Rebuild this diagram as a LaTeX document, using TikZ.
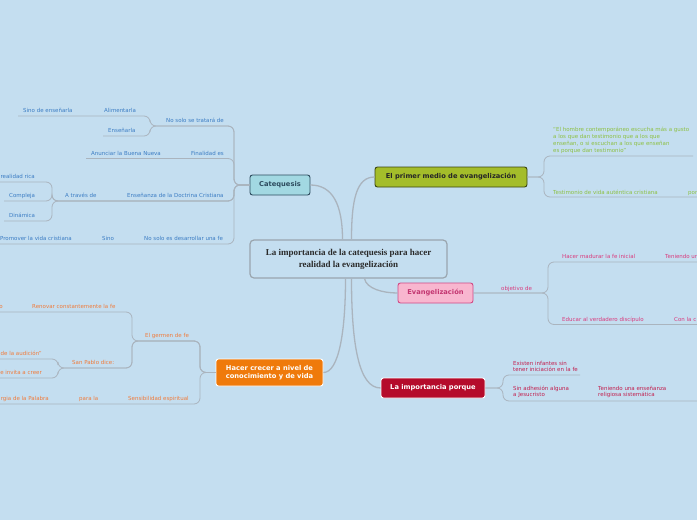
\documentclass[tikz,border=0pt]{standalone}
\usepackage{fontspec}
\setmainfont{DejaVu Sans}
\newfontfamily\titlefont{Liberation Serif}
\usetikzlibrary{positioning}
\definecolor{paper}{HTML}{C4DEF0}
\definecolor{wire}{HTML}{AAB4BE}
\definecolor{rootedge}{HTML}{9AA5AE}
\definecolor{ink}{HTML}{2A2A2A}
\definecolor{catblue}{HTML}{3C7DC4}
\definecolor{catfill}{HTML}{A2D8E2}
\definecolor{catedge}{HTML}{2D4B5E}
\definecolor{medgreen}{HTML}{8DC043}
\definecolor{medfill}{HTML}{A4BD2A}
\definecolor{mededge}{HTML}{3A4410}
\definecolor{evpink}{HTML}{D93C7E}
\definecolor{evfill}{HTML}{F8B6CF}
\definecolor{evedge}{HTML}{D04A86}
\definecolor{grorange}{HTML}{F07C3C}
\definecolor{grfill}{HTML}{EF7A0B}
\definecolor{whyred}{HTML}{C21F4E}
\definecolor{whyfill}{HTML}{B50B2B}

\begin{document}
\begin{tikzpicture}[x=1pt, y=-1pt,
  topic/.style={draw, rounded corners=2.5pt, line width=0.9pt, inner sep=0pt, align=center, font=\fontsize{6.7}{8.2}\selectfont\bfseries},
  leaf/.style={inner sep=0pt, anchor=base west, align=left, font=\fontsize{5.5}{6.7}\selectfont},
  leafr/.style={leaf, anchor=base east, align=right},
  branch/.style={draw=wire, line width=0.8pt, rounded corners=6pt},
  trunk/.style={draw=wire, line width=1.3pt}]
  \useasboundingbox (0,0) rectangle (697,520);
  \clip (0,0) rectangle (697,520);
  \fill[paper] (0,0) rectangle (697,520);

  % centre and main topics
  \node[draw=rootedge, fill=paper, rounded corners=4pt, line width=1.2pt, minimum width=197pt, minimum height=38pt, align=center, text=ink, font=\titlefont\fontsize{9}{12}\selectfont\bfseries] (root) at (348.5,259) {La importancia de la catequesis para hacer\\realidad la evangelización};
  \node[topic, draw=catedge, fill=catfill, text=catedge, minimum width=60pt, minimum height=20pt] (cat) at (280,185) {Catequesis};
  \node[topic, draw=mededge, fill=medfill, text=black!85, minimum width=152pt, minimum height=20pt] (med) at (451,177) {El primer medio de evangelización};
  \node[topic, draw=evedge, fill=evfill, text=evpink!90!black, minimum width=75pt, minimum height=20pt] (ev) at (435.5,293) {Evangelización};
  \node[topic, draw=white, fill=grfill, text=white, minimum width=107pt, minimum height=27pt] (grow) at (269.5,372.5) {Hacer crecer a nivel de\\conocimiento y de vida};
  \node[topic, draw=white, fill=whyfill, text=white, minimum width=104pt, minimum height=20pt] (why) at (433,388) {La importancia porque};

  \draw[trunk] ([xshift=-6pt]root.north) .. controls +(0,-35) and +(22,0) .. (cat.east);
  \draw[trunk] ([xshift=3pt]root.north) .. controls +(0,-40) and +(-18,0) .. (med.west);
  \draw[trunk] ([xshift=16pt]root.south) .. controls +(2,10) and +(-15,0) .. (ev.west);
  \draw[trunk] ([xshift=-3pt]root.south) .. controls +(0,55) and +(15,0) .. (grow.east);
  \draw[trunk] ([xshift=3pt]root.south) .. controls +(0,65) and +(-22,0) .. (why.west);

  % Catequesis
  \coordinate (catj) at (234,185);
  \coordinate (c1j) at (150,126);
  \coordinate (c3j) at (52,201);
  \coordinate (u_sino) at (18,116);
  \coordinate (u_ens) at (103,136);
  \coordinate (u_anun) at (86,158.5);
  \coordinate (u_rica) at (-2,182);
  \coordinate (u_comp) at (4,201);
  \coordinate (u_din) at (4,221);
  \coordinate (u_prom) at (-2,244);
  \draw[branch] (cat.west) -- (catj) |- (c1j) |- (u_sino);
  \draw[branch] (cat.west) -- (catj) |- (c1j) |- (u_ens);
  \draw[branch] (cat.west) -- (catj) |- (u_anun);
  \draw[branch] (cat.west) -- (catj) |- (c3j) |- (u_rica);
  \draw[branch] (cat.west) -- (catj) |- (c3j) |- (u_comp);
  \draw[branch] (cat.west) -- (catj) |- (c3j) |- (u_din);
  \draw[branch] (cat.west) -- (catj) |- (u_prom);
  \begin{scope}[every node/.append style={text=catblue}]
    \node[leaf] (tratar) at (166,122.5) {No solo se tratará de};
    \node[leaf] (alim) at (104,112.5) {Alimentarla};
    \node[leaf] (sinoens) at (23,112.5) {Sino de enseñarla};
    \node[leaf] (ensen) at (108,132.5) {Enseñarla};
    \node[leaf] (fin) at (191,155) {Finalidad es};
    \node[leaf] (anun) at (91,155) {Anunciar la Buena Nueva};
    \node[leaf] (doct) at (127,197.5) {Enseñanza de la Doctrina Cristiana};
    \node[leaf] (atrav) at (65,197.5) {A través de};
    \node[leafr] (rica) at (35,178.5) {realidad rica};
    \node[leaf] (comp) at (9,197.5) {Compleja};
    \node[leaf] (din) at (9,217.5) {Dinámica};
    \node[leaf] (desa) at (144,240.5) {No solo es desarrollar una fe};
    \node[leaf] (sino) at (102,240.5) {Sino};
    \node[leafr] (prom) at (72,240.5) {Promover la vida cristiana};
  \end{scope}

  % El primer medio de evangelizacion
  \coordinate (medj) at (544,177);
  \coordinate (u_quote) at (693,156);
  \coordinate (u_test) at (700,197);
  \draw[branch] (med.east) -- (medj) |- (u_quote);
  \draw[branch] (med.east) -- (medj) |- (u_test);
  \begin{scope}[every node/.append style={text=medgreen}]
    \node[leaf] (quote) at (553,152) {“El hombre contemporáneo escucha más a gusto\\a los que dan testimonio que a los que\\enseñan, o si escuchan a los que enseñan\\es porque dan testimonio”};
    \node[leaf] (test) at (553,194) {Testimonio de vida auténtica cristiana};
    \node[leaf] (por) at (688,194) {por};
  \end{scope}

  % Evangelizacion
  \coordinate (evj) at (548,293);
  \coordinate (u_mad) at (700,262);
  \coordinate (u_edu) at (700,324.5);
  \draw[branch] (ev.east) -- (evj) |- (u_mad);
  \draw[branch] (ev.east) -- (evj) |- (u_edu);
  \begin{scope}[every node/.append style={text=evpink}]
    \node[leaf] (objetivo) at (501,290) {objetivo de};
    \node[leaf] (madurar) at (562,258.5) {Hacer madurar la fe inicial};
    \node[leaf] (tenu) at (665,258.5) {Teniendo un};
    \node[leaf] (educar) at (562,321) {Educar al verdadero discípulo};
    \node[leaf] (conla) at (674,321) {Con la c};
  \end{scope}

  % Hacer crecer
  \coordinate (grj) at (200,372.5);
  \coordinate (germj) at (132,341);
  \coordinate (pabj) at (58,368);
  \coordinate (u_ren) at (-2,312);
  \coordinate (u_aud) at (-2,359);
  \coordinate (u_inv) at (-2,378);
  \coordinate (u_sens) at (-2,404);
  \draw[branch] (grow.west) -- (grj) |- (germj) |- (u_ren);
  \draw[branch] (grow.west) -- (grj) |- (germj) |- (pabj) |- (u_aud);
  \draw[branch] (grow.west) -- (grj) |- (germj) |- (pabj) |- (u_inv);
  \draw[branch] (grow.west) -- (grj) |- (u_sens);
  \begin{scope}[every node/.append style={text=grorange}]
    \node[leaf] (germen) at (145,337.5) {El germen de fe};
    \node[leaf] (renovar) at (32,308.5) {Renovar constantemente la fe};
    \node[leafr] (oend) at (3,308.5) {o};
    \node[leaf] (pablo) at (72,364.5) {San Pablo dice:};
    \node[leafr] (audi) at (42,355.5) {de la audición”};
    \node[leafr] (invita) at (42,374.5) {e invita a creer};
    \node[leaf] (sens) at (128,400.5) {Sensibilidad espiritual};
    \node[leaf] (parala) at (79,400.5) {para la};
    \node[leafr] (palabra) at (49,400.5) {rgia de la Palabra};
  \end{scope}

  % La importancia porque
  \coordinate (whyj) at (503,388);
  \coordinate (u_exist) at (580,375);
  \coordinate (u_adh) at (700,401);
  \draw[branch] (why.east) -- (whyj) |- (u_exist);
  \draw[branch] (why.east) -- (whyj) |- (u_adh);
  \begin{scope}[every node/.append style={text=whyred}]
    \node[leaf] (exist) at (513,371.7) {Existen infantes sin\\tener iniciación en la fe};
    \node[leaf] (adh) at (513,396.7) {Sin adhesión alguna\\a Jesucristo};
    \node[leaf] (sist) at (598,396.7) {Teniendo una enseñanza\\religiosa sistemática};
  \end{scope}
\end{tikzpicture}
\end{document}
